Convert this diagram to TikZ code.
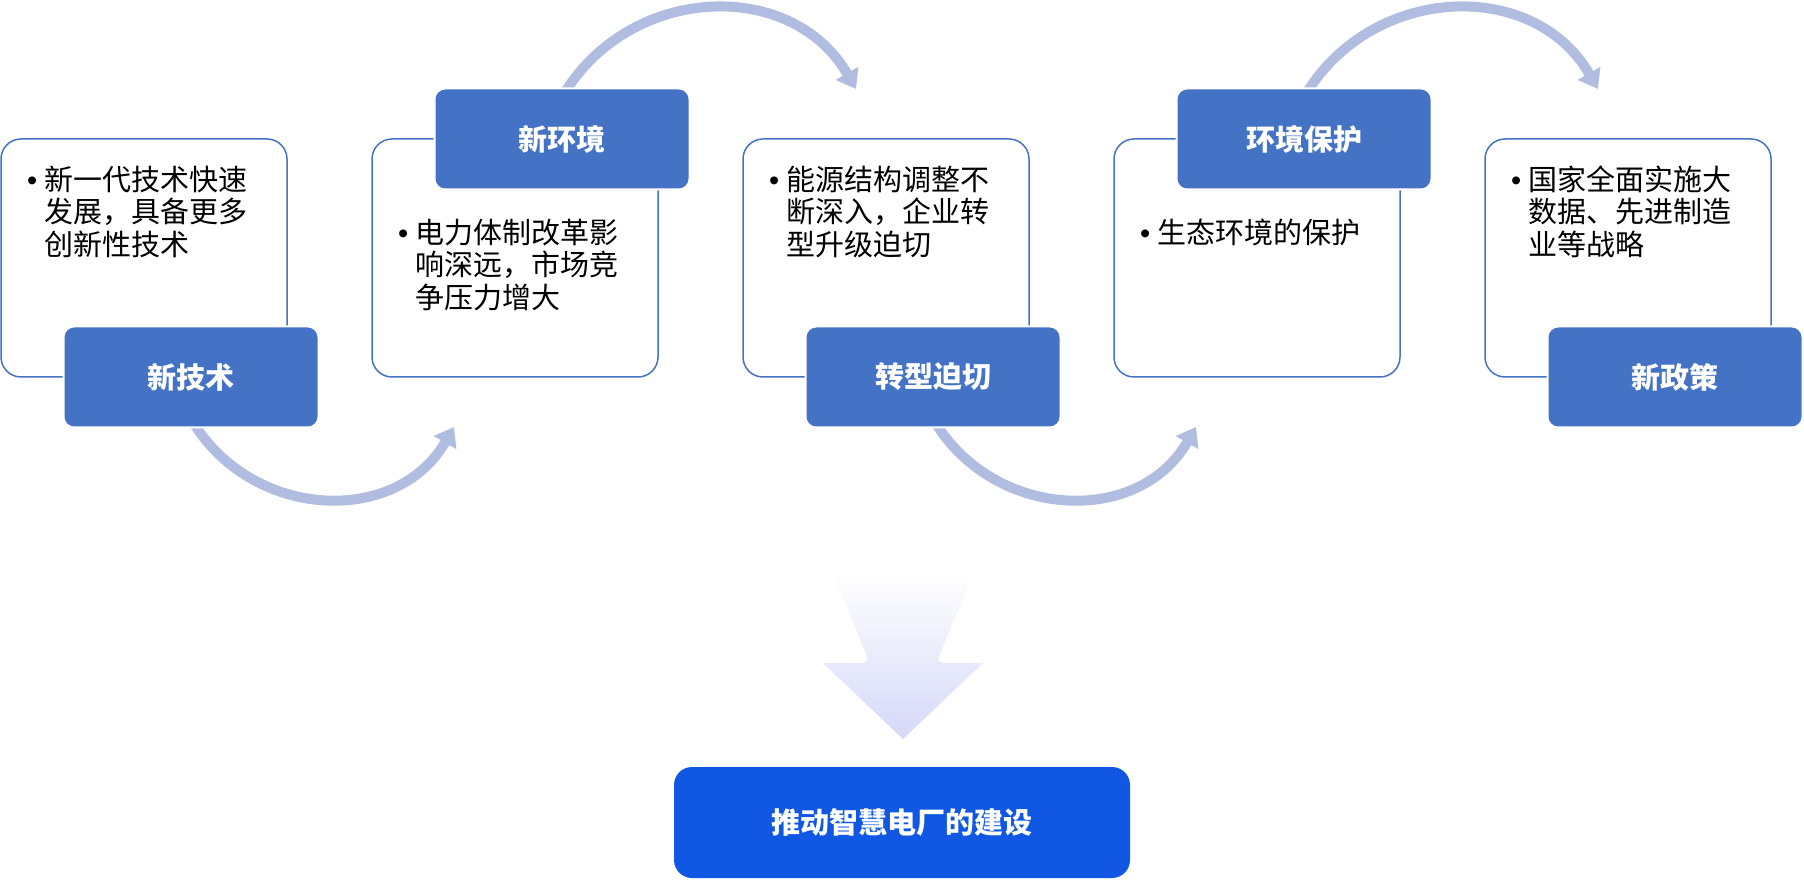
\documentclass[tikz,border=0pt]{standalone}
\usepackage{fontspec}
\setmainfont{Noto Sans CJK SC}
\newfontfamily\latinf{Liberation Sans}
\usetikzlibrary{arrows.meta,backgrounds}

\definecolor{tagblue}{HTML}{4472C4}
\definecolor{flowarc}{HTML}{B0BDE0}
\definecolor{goalblue}{HTML}{1058E4}
\definecolor{sinklav}{HTML}{D5D8F8}

\newcommand{\itemdot}{\llap{{\latinf •}\hspace{7pt}}}

\tikzset{
  card/.style={draw=tagblue, line width=1.5pt, fill=white, rounded corners=20pt,
    minimum width=286pt, minimum height=238pt, inner sep=0pt, outer sep=0pt},
  tag/.style={fill=tagblue, rounded corners=10pt, minimum width=253pt,
    minimum height=99pt, text=white, font=\fontsize{29}{29}\selectfont\bfseries,
    preaction={draw=white, line width=4pt}},
  txt/.style={anchor=north west, align=left, inner sep=0pt,
    font=\fontsize{29}{32.5}\selectfont},
  flow/.style={flowarc, line width=10pt, -{Triangle[width=25pt,length=18pt]}},
  goal/.style={fill=goalblue, rounded corners=18pt, minimum width=456pt,
    minimum height=111pt, text=white, font=\fontsize{29}{29}\selectfont\bfseries},
}

\begin{document}
\begin{tikzpicture}[x=1pt, y=1pt]

  % 1 unit = 1 px of the 1804 x 879 canvas, y upwards
  \useasboundingbox (0,0) rectangle (1804,879);

  % Cards (step 371)
  \node[card] (b1) at ( 144, 621) {};
  \node[card] (b2) at ( 515, 621) {};
  \node[card] (b3) at ( 886, 621) {};
  \node[card] (b4) at (1257, 621) {};
  \node[card] (b5) at (1628, 621) {};

  % Card texts
  \node[txt] (p1) at ([shift={(43pt,-26.5pt)}]b1.north west) {\itemdot{}新一代技术快速\\发展，具备更多\\创新性技术};
  \node[txt] (p2) at ([shift={(43pt,-79.5pt)}]b2.north west) {\itemdot{}电力体制改革影\\响深远，市场竞\\争压力增大};
  \node[txt] (p3) at ([shift={(43pt,-26.5pt)}]b3.north west) {\itemdot{}能源结构调整不\\断深入，企业转\\型升级迫切};
  \node[txt] (p4) at ([shift={(43pt,-79.5pt)}]b4.north west) {\itemdot{}生态环境的保护};
  \node[txt] (p5) at ([shift={(43pt,-26.5pt)}]b5.north west) {\itemdot{}国家全面实施大\\数据、先进制造\\业等战略};

  % Tags: below for odd cards, above for even cards
  \node[tag] (t1) at ([xshift=47pt]b1.south) {新技术};
  \node[tag] (t2) at ([xshift=47pt]b2.north) {新环境};
  \node[tag] (t3) at ([xshift=47pt]b3.south) {转型迫切};
  \node[tag] (t4) at ([xshift=47pt]b4.north) {环境保护};
  \node[tag] (t5) at ([xshift=47pt]b5.south) {新政策};

  % Arc ends, free of the cards
  \coordinate (e1) at ([shift={(82pt,-50pt)}]b2.south west);
  \coordinate (e2) at ([shift={(113pt,50pt)}]b3.north west);
  \coordinate (e3) at ([shift={(82pt,-50pt)}]b4.south west);
  \coordinate (e4) at ([shift={(113pt,50pt)}]b5.north west);

  % Arcs start under the tags
  \begin{scope}[on background layer]
    \draw[flow] ([yshift=8pt]t1.south) to[out=-60, in=-120, looseness=1.13] (e1);
    \draw[flow] ([yshift=-8pt]t2.north) to[out=60, in=120, looseness=1.13] (e2);
    \draw[flow] ([yshift=8pt]t3.south) to[out=-60, in=-120, looseness=1.13] (e3);
    \draw[flow] ([yshift=-8pt]t4.north) to[out=60, in=120, looseness=1.13] (e4);
  \end{scope}

  % Big down arrow
  \shade[top color=white, bottom color=sinklav]
    (832.5,306) -- (863,232.6) .. controls (870,216) .. (852,216) -- (823,216)
    -- (903,140) -- (983,216) -- (954,216) .. controls (936,216) .. (943,232.6)
    -- (973.5,306) -- cycle;

  % Goal
  \node[goal] (g) at (902,56.5) {推动智慧电厂的建设};

\end{tikzpicture}
\end{document}
